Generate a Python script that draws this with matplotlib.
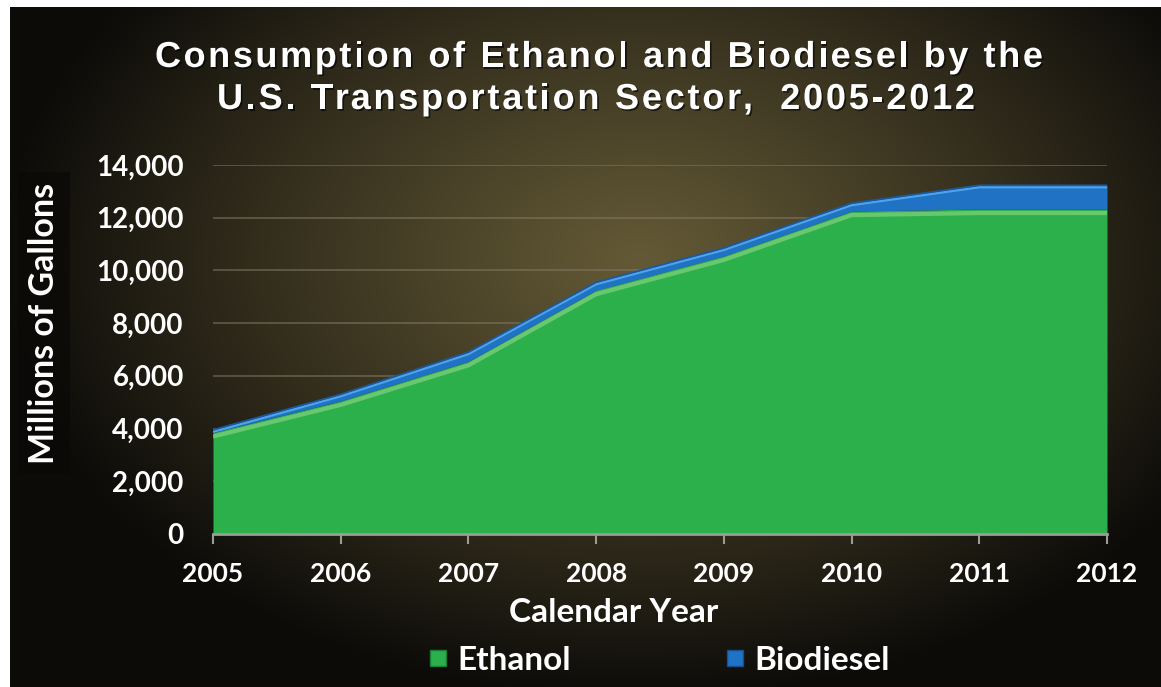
import numpy as np
import matplotlib
matplotlib.use("Agg")
import matplotlib.pyplot as plt
import matplotlib.patheffects as pe
import matplotlib.transforms as mtransforms
from matplotlib.font_manager import FontProperties
from matplotlib.lines import Line2D

# data (millions of gallons)
years = [2005, 2006, 2007, 2008, 2009, 2010, 2011, 2012]
ethanol = [3850, 5050, 6550, 9250, 10550, 12250, 12330, 12330]
biodiesel = [100, 250, 350, 300, 300, 300, 900, 900]
y_ticks = [0, 2000, 4000, 6000, 8000, 10000, 12000, 14000]
series_names = ["Ethanol", "Biodiesel"]
title_lines = ["Consumption of Ethanol and Biodiesel by the",
               "U.S. Transportation Sector,  2005-2012"]

W, H = 1161, 687
fig = plt.figure(figsize=(W / 100, H / 100), dpi=100, facecolor="white")

# dark background with a warm radial glow
bg = fig.add_axes([10 / W, 0, 1 - 10 / W, 1 - 7 / H])
bg.axis("off")
xx, yy = np.meshgrid(np.linspace(10, W, 400), np.linspace(7, H, 240))
d = np.sqrt(((xx - 640) / 640) ** 2 + ((yy - 260) / 440) ** 2)
t = np.clip(d, 0, 1) ** 1.1
c0 = np.array([0.39, 0.35, 0.21])
c1 = np.array([0.05, 0.045, 0.035])
img = c0[None, None, :] * (1 - t[..., None]) + c1[None, None, :] * t[..., None]
bg.imshow(img, extent=[0, 1, 0, 1], aspect="auto", origin="upper")
bg.set_xlim(0, 1)
bg.set_ylim(0, 1)

ax = fig.add_axes([213 / W, 1 - 534 / H, (1107 - 213) / W, (534 - 165) / H])
ax.patch.set_alpha(0)

total = np.array(ethanol) + np.array(biodiesel)
ax.fill_between(years, 0, ethanol, color="#2cb04b", lw=0, zorder=2)
ax.fill_between(years, ethanol, total, color="#1f72c4", lw=0, zorder=2)

# bevel highlights
off_g = mtransforms.offset_copy(ax.transData, fig=fig, x=0, y=-4, units="dots")
ax.plot(years, ethanol, color="#7fd07c", lw=3, alpha=0.75, transform=off_g,
        zorder=3, solid_capstyle="butt")
off_b = mtransforms.offset_copy(ax.transData, fig=fig, x=0, y=-2, units="dots")
ax.plot(years, total, color="#4ea4e8", lw=1.6, transform=off_b, zorder=3,
        solid_capstyle="butt")
ax.plot(years, total, color="#1a58a2", lw=1.2, zorder=4, solid_capstyle="butt")

ax.set_xlim(2005, 2012)
ax.set_ylim(0, 14000)
ax.set_yticks(y_ticks)
ax.set_yticklabels([f"{v:,}" for v in y_ticks])
ax.set_xticks(years)
ax.set_xticklabels([str(y) for y in years])
ax.yaxis.grid(True, color="#857c66", lw=1.3, alpha=0.55)
ax.set_axisbelow(True)

for side in ["top", "right", "left"]:
    ax.spines[side].set_visible(False)
ax.spines["bottom"].set_color("#9c9c96")
ax.spines["bottom"].set_linewidth(2)
ax.spines["bottom"].set_zorder(5)

tick_font = dict(family="Lato", weight="bold")
ax.tick_params(axis="y", length=0, pad=21, labelsize=20, labelcolor="white")
ax.tick_params(axis="x", length=7, width=1.5, color="#9c9c96", pad=13,
               labelsize=19, labelcolor="white")
for lab in ax.get_xticklabels() + ax.get_yticklabels():
    lab.set_family("Lato")
    lab.set_weight("bold")

fig.text(44 / W, 1 - 323 / H, "Millions of Gallons", rotation=90,
         ha="center", va="center", fontsize=24.5, color="white", **tick_font,
         bbox=dict(boxstyle="square,pad=0.3", fc="#0a0907", ec="none", alpha=0.7))
fig.text(614 / W, 1 - 612 / H, "Calendar Year", ha="center", va="center",
         fontsize=24, color="white", **tick_font)

handles = [
    Line2D([], [], marker="s", ls="none", markersize=11,
           mfc="#2cb04b", mec="#1c7d36", mew=1),
    Line2D([], [], marker="s", ls="none", markersize=11,
           mfc="#1f72c4", mec="#164f8e", mew=1),
]
fig.legend(handles, series_names, loc="center", bbox_to_anchor=(659 / W, 1 - 660 / H),
           ncol=2, frameon=False, labelcolor="white", columnspacing=4.6,
           handletextpad=0.3, handlelength=0.6,
           prop=dict(family="Lato", weight="bold", size=24))

# letter-spaced title
fp = FontProperties(family="Liberation Sans", weight="bold", size=26)
renderer = fig.canvas.get_renderer()


def text_width(s):
    tmp = fig.text(0, 0, s, fontproperties=fp)
    w = tmp.get_window_extent(renderer).width
    tmp.remove()
    return w


shadow = [pe.withSimplePatchShadow(offset=(1.2, -1.2), shadow_rgbFace="black", alpha=0.6)]
base = text_width("||")
for line, xc, y_base, target in [(title_lines[0], 599, 67, 888),
                                 (title_lines[1], 596, 109, 758)]:
    # prefix widths give each glyph's advance cell; centre the glyph in it
    pos = [text_width("|" + line[:i] + "|") - base for i in range(len(line) + 1)]
    track = (target - pos[-1]) / (len(line) - 1)
    x0 = xc - target / 2
    for i, ch in enumerate(line):
        if ch != " ":
            cx = x0 + (pos[i] + pos[i + 1]) / 2 + i * track
            fig.text(cx / W, 1 - y_base / H, ch,
                     fontproperties=fp, color="white", ha="center", va="baseline",
                     path_effects=shadow)

fig.savefig("out.png", dpi=100, facecolor=fig.get_facecolor())
